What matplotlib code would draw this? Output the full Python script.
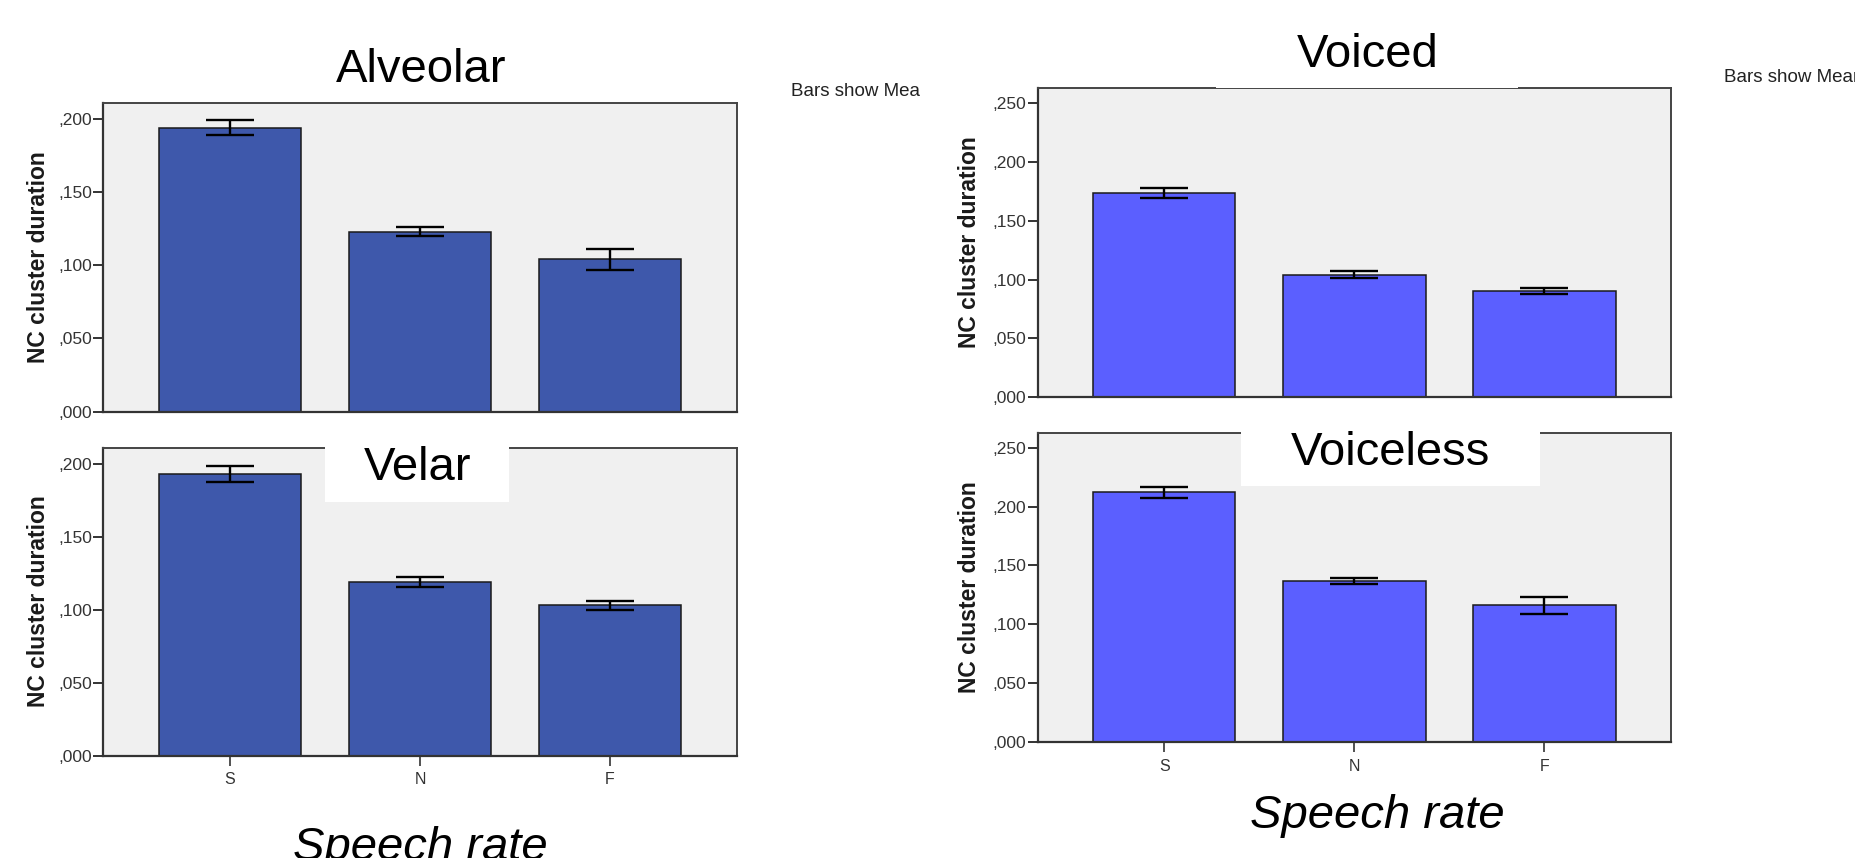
import matplotlib
matplotlib.use('Agg')
import matplotlib.pyplot as plt
from matplotlib.patches import Rectangle
from matplotlib.ticker import FuncFormatter, FixedLocator

W, H = 1855, 858
DPI = 100

# ---- data ----
categories = ['S', 'N', 'F']
alveolar_means = [0.194, 0.123, 0.104]
alveolar_err = [0.005, 0.0033, 0.007]
velar_means = [0.193, 0.119, 0.103]
velar_err = [0.0055, 0.0037, 0.003]
voiced_means = [0.174, 0.104, 0.090]
voiced_err = [0.0043, 0.003, 0.0025]
voiceless_means = [0.212, 0.137, 0.116]
voiceless_err = [0.005, 0.0026, 0.0071]
left_yticks = [0.0, 0.05, 0.10, 0.15, 0.20]
right_yticks = [0.0, 0.05, 0.10, 0.15, 0.20, 0.25]
panel_titles = ['Alveolar', 'Velar', 'Voiced', 'Voiceless']
ylabel_text = 'NC cluster duration'
xlabel_text = 'Speech rate'
note_text = 'Bars show Means'

LEFT_COLOR = '#3E58AB'
RIGHT_COLOR = '#5B5FFF'
BG = '#F0F0F0'

plt.rcParams['font.family'] = ['Liberation Sans', 'DejaVu Sans']

fig = plt.figure(figsize=(W / DPI, H / DPI), dpi=DPI)
fig.patch.set_facecolor('white')


def fx(x):
    return x / W


def fy(y):
    return 1 - y / H


def px_axes(x0, ytop, x1, ybot):
    return fig.add_axes([x0 / W, 1 - ybot / H, (x1 - x0) / W, (ybot - ytop) / H])


def fmt(v, pos):
    s = f'{v:.3f}'
    return s.replace('0.', ',', 1)


def draw_panel(ax, means, err, color, ymax, yticks, show_x):
    x = list(range(len(categories)))
    ax.set_facecolor(BG)
    ax.bar(x, means, width=0.75, color=color, edgecolor='#1a1a1a',
           linewidth=1.1, zorder=2)
    ax.errorbar(x, means, yerr=err, fmt='none', ecolor='black',
                elinewidth=1.7, capsize=17, capthick=1.7, zorder=3)
    ax.set_xlim(-0.667, 2.667)
    ax.set_ylim(0, ymax)
    ax.yaxis.set_major_locator(FixedLocator(yticks))
    ax.yaxis.set_major_formatter(FuncFormatter(fmt))
    ax.tick_params(axis='y', direction='out', length=7, width=1.4,
                   color='#333333', labelsize=11, labelcolor='#333333', pad=1)
    for lab in ax.get_yticklabels():
        lab.set_family(['Liberation Sans Narrow', 'Liberation Sans'])
        lab.set_fontsize(12.5)
    if show_x:
        ax.set_xticks(x)
        ax.set_xticklabels(categories)
        ax.tick_params(axis='x', direction='out', length=7, width=1.2,
                       color='#333333', labelsize=11.5, labelcolor='#333333',
                       pad=5)
    else:
        ax.set_xticks([])
    for side in ['left', 'bottom']:
        ax.spines[side].set_color('#333333')
        ax.spines[side].set_linewidth(1.6)
    for side in ['top', 'right']:
        ax.spines[side].set_color('#444444')
        ax.spines[side].set_linewidth(1.4)


# axes in pixel coordinates of the reference
ax_alv = px_axes(103.3, 102.7, 736.7, 411.7)
ax_vel = px_axes(103.3, 447.7, 736.7, 755.5)
ax_voi = px_axes(1037.5, 88.3, 1671.0, 397.0)
ax_vls = px_axes(1037.5, 432.7, 1671.0, 742.0)

draw_panel(ax_alv, alveolar_means, alveolar_err, LEFT_COLOR, 0.211, left_yticks, False)
draw_panel(ax_vel, velar_means, velar_err, LEFT_COLOR, 0.211, left_yticks, True)
draw_panel(ax_voi, voiced_means, voiced_err, RIGHT_COLOR, 0.2628, right_yticks, False)
draw_panel(ax_vls, voiceless_means, voiceless_err, RIGHT_COLOR, 0.2628, right_yticks, True)


def white_box(x0, y0, x1, y1, z=5):
    fig.patches.append(Rectangle((fx(x0), fy(y1)), (x1 - x0) / W, (y1 - y0) / H,
                                 transform=fig.transFigure, facecolor='white',
                                 edgecolor='none', zorder=z))


# title boxes partly covering top spines
white_box(270, 60, 580, 102.4)
white_box(1216, 45, 1518, 88.0)
white_box(325, 438, 509, 501.7)
white_box(1241, 423, 1540, 486)

title_kw = dict(fontsize=34, color='black', ha='center', va='baseline', zorder=6)
fig.text(fx(421), fy(82.5), panel_titles[0], **title_kw)
fig.text(fx(418), fy(480), panel_titles[1], **title_kw)
fig.text(fx(1368), fy(67), panel_titles[2], **title_kw)
fig.text(fx(1390.5), fy(465), panel_titles[3], **title_kw)

# y labels
ylab_kw = dict(fontsize=16.5, fontweight='bold', rotation=90, ha='center',
               va='center', color='#1a1a1a', zorder=6)
fig.text(fx(39), fy(257), ylabel_text, **ylab_kw)
fig.text(fx(39), fy(601.5), ylabel_text, **ylab_kw)
fig.text(fx(969), fy(242.6), ylabel_text, **ylab_kw)
fig.text(fx(969), fy(587.3), ylabel_text, **ylab_kw)

# x labels
xl_kw = dict(fontsize=34, style='italic', ha='center', va='baseline',
             color='black', zorder=6)
fig.text(fx(420.5), fy(860), xlabel_text, **xl_kw)
fig.text(fx(1377.5), fy(828), xlabel_text, **xl_kw)

# "Bars show Means" notes (clipped, as in the reference)
note_kw = dict(fontsize=13.5, ha='left', va='center', color='#222222', zorder=6)
fig.text(fx(791), fy(91), note_text, **note_kw)
fig.text(fx(1724), fy(77), note_text, **note_kw)
white_box(921, 75, 958, 108, z=8)

fig.savefig('out.png', dpi=DPI, facecolor='white')
